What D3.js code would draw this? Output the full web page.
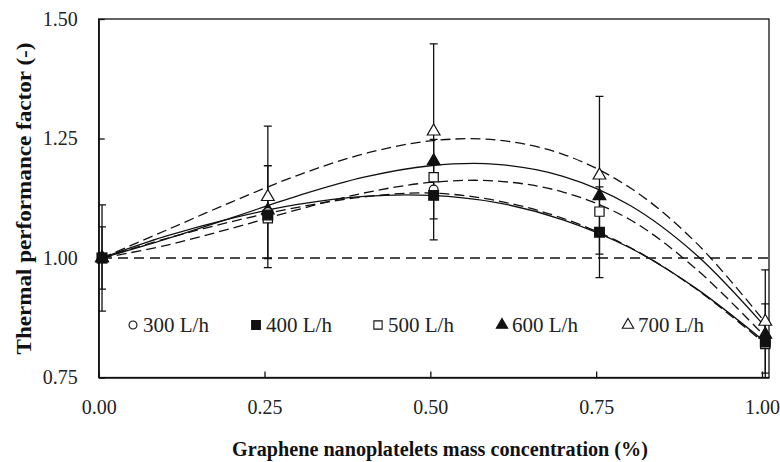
<!DOCTYPE html>
<html>
<head>
<meta charset="utf-8">
<script src="https://cdn.jsdelivr.net/npm/d3@7"></script>
<style>
  html, body { margin: 0; padding: 0; background: #fff; }
  svg { display: block; }
</style>
</head>
<body>
<svg id="chart" width="780" height="462"></svg>
<script>
// ---------- data ----------
const xTickValues = [0, 0.25, 0.5, 0.75, 1.0];
const yTickValues = [0.75, 1.0, 1.25, 1.5];
const seriesNames = ["300 L/h", "400 L/h", "500 L/h", "600 L/h", "700 L/h"];

// measured concentrations (as plotted)
const xPoints = [0.005, 0.255, 0.505, 0.755, 1.005];
const tpf300 = [1.000, 1.096, 1.143, 1.054, 0.824];
const tpf400 = [1.000, 1.090, 1.131, 1.054, 0.824];
const tpf500 = [1.000, 1.083, 1.169, 1.097, 0.820];
const tpf600 = [1.000, 1.100, 1.203, 1.130, 0.840];
const tpf700 = [1.000, 1.128, 1.265, 1.173, 0.867];

// error bars (±)
const err300 = [0.065, 0.097, 0.105, 0.095, 0.080];
const err700 = [0.111, 0.148, 0.183, 0.165, 0.108];

// trend-line values
const trendX   = [0.005, 0.1, 0.2, 0.3, 0.4, 0.5, 0.6, 0.7, 0.8, 0.9, 1.005];
const trend300 = [1.000, 1.040, 1.076, 1.106, 1.128, 1.136, 1.120, 1.083, 1.023, 0.936, 0.820];
const trend400 = [1.000, 1.045, 1.083, 1.112, 1.129, 1.131, 1.116, 1.080, 1.022, 0.937, 0.824];
const trend500 = [1.000, 1.026, 1.062, 1.101, 1.136, 1.158, 1.161, 1.138, 1.081, 0.978, 0.835];
const trend600 = [1.000, 1.039, 1.084, 1.130, 1.169, 1.193, 1.196, 1.171, 1.111, 1.008, 0.856];
const trend700 = [1.000, 1.057, 1.117, 1.173, 1.218, 1.245, 1.247, 1.217, 1.148, 1.033, 0.865];

// reference line at TPF = 1
const refLineX = [0.005, 1.0106];
const refLineY = 1.0;

// ---------- layout ----------
const FONT = "'Liberation Serif', 'Times New Roman', serif";
const svg = d3.select("#chart");
const plot = { left: 98.7, right: 769, top: 19, bottom: 377.5 };
const x = d3.scaleLinear().domain([0, 1.0106]).range([plot.left, plot.right]);
const y = d3.scaleLinear().domain([0.75, 1.5]).range([plot.bottom, plot.top]);
const ink = "#111";

svg.append("defs").append("clipPath").attr("id", "clip")
  .append("rect").attr("x", plot.left).attr("y", plot.top)
  .attr("width", plot.right - plot.left).attr("height", plot.bottom - plot.top);

// frame
svg.append("rect")
  .attr("x", plot.left).attr("y", plot.top)
  .attr("width", plot.right - plot.left).attr("height", plot.bottom - plot.top)
  .attr("fill", "none").attr("stroke", ink).attr("stroke-width", 1.3);

// axes
const xAxis = d3.axisBottom(x).tickValues(xTickValues).tickFormat(d3.format(".2f"))
  .tickSizeInner(-6).tickSizeOuter(0).tickPadding(22);
const gx = svg.append("g").attr("transform", `translate(0,${plot.bottom})`).call(xAxis);
const yAxis = d3.axisLeft(y).tickValues(yTickValues).tickFormat(d3.format(".2f"))
  .tickSizeInner(-6).tickSizeOuter(0).tickPadding(21);
const gy = svg.append("g").attr("transform", `translate(${plot.left},0)`).call(yAxis);
[gx, gy].forEach(g => {
  g.attr("font-family", null);
  g.select(".domain").attr("stroke", ink).attr("stroke-width", 1.3);
  g.selectAll(".tick line").attr("stroke", ink).attr("stroke-width", 1.3);
  g.selectAll(".tick text")
    .style("font-family", FONT).style("font-size", "20px").style("fill", "#222");
});

// axis titles
svg.append("text")
  .attr("x", (232 + 648) / 2).attr("y", 456)
  .attr("text-anchor", "middle")
  .style("font-family", FONT).style("font-weight", "bold").style("font-size", "20px").style("fill", "#111")
  .attr("textLength", 416).attr("lengthAdjust", "spacingAndGlyphs")
  .text("Graphene nanoplatelets mass concentration (%)");
svg.append("text")
  .attr("transform", `translate(31,${(42 + 355) / 2}) rotate(-90)`)
  .attr("text-anchor", "middle")
  .style("font-family", FONT).style("font-weight", "bold").style("font-size", "20px").style("fill", "#111")
  .attr("textLength", 312).attr("lengthAdjust", "spacingAndGlyphs")
  .text("Thermal performance factor (-)");

const plotG = svg.append("g").attr("clip-path", "url(#clip)");

// reference line
plotG.append("line")
  .attr("x1", x(refLineX[0])).attr("x2", x(refLineX[1]))
  .attr("y1", y(refLineY)).attr("y2", y(refLineY))
  .attr("stroke", ink).attr("stroke-width", 1.3).attr("stroke-dasharray", "10,6");

// trend lines
const trends = [
  { v: trend300, dash: "10,5" },
  { v: trend400, dash: null },
  { v: trend500, dash: "10,5" },
  { v: trend600, dash: null },
  { v: trend700, dash: "10,5" }
];
const line = d3.line().x(d => x(d[0])).y(d => y(d[1])).curve(d3.curveCatmullRom.alpha(0.5));
trends.forEach(t => {
  plotG.append("path")
    .attr("d", line(trendX.map((xv, i) => [xv, t.v[i]])))
    .attr("fill", "none").attr("stroke", ink).attr("stroke-width", 1.3)
    .attr("stroke-dasharray", t.dash);
});

// error bars
function errorBars(vals, errs) {
  const cap = 4;
  xPoints.forEach((xv, i) => {
    const cx = x(xv), y1 = y(vals[i] + errs[i]), y2 = y(vals[i] - errs[i]);
    plotG.append("line").attr("x1", cx).attr("x2", cx).attr("y1", y1).attr("y2", y2)
      .attr("stroke", ink).attr("stroke-width", 1.3);
    [y1, y2].forEach(yy => plotG.append("line")
      .attr("x1", cx - cap).attr("x2", cx + cap).attr("y1", yy).attr("y2", yy)
      .attr("stroke", ink).attr("stroke-width", 1.3));
  });
}
errorBars(tpf300, err300);
errorBars(tpf700, err700);

// markers
const markerDefs = [
  { v: tpf300, type: d3.symbolCircle, size: 62, fill: "#fff" },
  { v: tpf400, type: d3.symbolSquare, size: 95, fill: ink },
  { v: tpf500, type: d3.symbolSquare, size: 85, fill: "#fff" },
  { v: tpf600, type: d3.symbolTriangle, size: 70, fill: ink },
  { v: tpf700, type: d3.symbolTriangle, size: 70, fill: "#fff" }
];
const drawOrder = [4, 3, 2, 0, 1];
drawOrder.forEach(k => {
  const m = markerDefs[k];
  const sym = d3.symbol().type(m.type).size(m.size);
  xPoints.forEach((xv, i) => {
    svg.append("path").attr("d", sym())
      .attr("transform", `translate(${x(xv)},${y(m.v[i])})`)
      .attr("fill", m.fill).attr("stroke", ink).attr("stroke-width", 1.2);
  });
});

// legend
const legendX = [133, 256, 378, 502, 628];
const legendY = 325;
seriesNames.forEach((name, k) => {
  const m = markerDefs[k];
  const sym = d3.symbol().type(m.type).size(m.size * 0.8);
  svg.append("path").attr("d", sym())
    .attr("transform", `translate(${legendX[k]},${legendY})`)
    .attr("fill", m.fill).attr("stroke", ink).attr("stroke-width", 1.1);
  svg.append("text").attr("x", legendX[k] + 10).attr("y", legendY + 7)
    .style("font-family", FONT).style("font-size", "21px").style("fill", "#222")
    .text(name);
});
</script>
</body>
</html>
